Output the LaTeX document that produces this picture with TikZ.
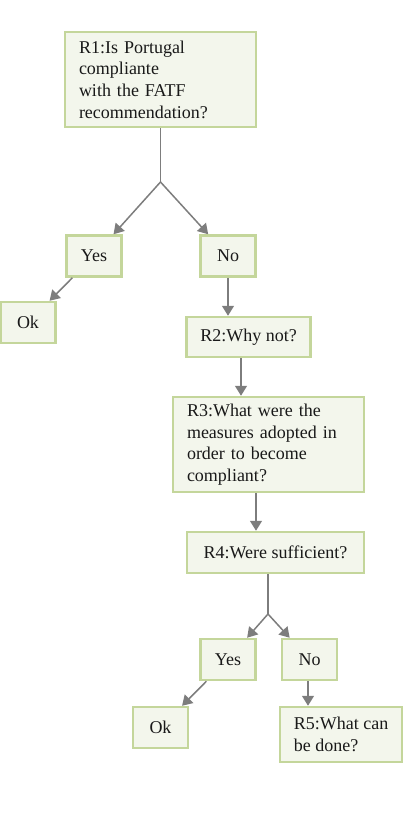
\documentclass[tikz,border=0pt]{standalone}
\usepackage{fontspec}
\setmainfont{Liberation Serif}
\usetikzlibrary{arrows.meta}
\definecolor{boxfill}{RGB}{243,246,236}
\definecolor{boxline}{RGB}{196,214,155}
\definecolor{arrowgray}{RGB}{125,125,125}

\begin{document}
\begin{tikzpicture}[x=1pt, y=-1pt,
  box/.style={draw=boxline, fill=boxfill, line width=2.5pt, inner xsep=14pt, inner ysep=3pt,
    font=\fontsize{18}{21.6}\selectfont, text=black!90},
  widebox/.style={box, text width=163pt, align=left, minimum height=95pt},
  smallbox/.style={box, inner xsep=2pt, minimum width=55pt, minimum height=41pt},
  conn/.style={draw=arrowgray, line width=1.5pt},
  arr/.style={conn, -{Triangle[width=12pt,length=10pt]}}]
\useasboundingbox (0,0) rectangle (403,816);

% first question and its two answers
\node[widebox] (r1) at (160.5,79.5) {R1:Is Portugal\\compliante\\with the FATF\\recommendation?};
\node[smallbox] (yes1) at (94,256) {Yes};
\node[smallbox] (no1) at (228,256) {No};
\node[smallbox] (ok1) at (28,322.5) {Ok};
\coordinate (j1) at (160.5,182);

% the "no" path
\node[box, minimum width=123pt, minimum height=40pt] (r2) at (248.5,337) {R2:Why not?};
\node[widebox] (r3) at (268.5,444.5) {R3:What were the\\measures adopted in\\order to become\\compliant?};
\node[box, minimum width=177pt, minimum height=41pt] (r4) at (275.5,552.5) {R4:Were sufficient?};
\node[smallbox] (yes2) at (228,659.5) {Yes};
\node[smallbox] (no2) at (309.5,659.5) {No};
\node[smallbox] (ok2) at (160.5,727.5) {Ok};
\node[box, align=left, minimum width=118pt, minimum height=55pt] (r5) at (341,734.5) {R5:What can\\be done?};
\coordinate (j2) at (268,614);

% connectors
\draw[conn] (r1) -- (j1);
\draw[arr] (j1) -- (yes1);
\draw[arr] (j1) -- (no1);
\draw[arr] (yes1) -- (ok1);
\draw[arr] (no1) -- (no1 |- r2.north);
\draw[arr] ([xshift=-7.5pt]r2.south) -- ([xshift=-7.5pt]r2.south |- r3.north);
\draw[arr] ([xshift=-12.5pt]r3.south) -- ([xshift=-12.5pt]r3.south |- r4.north);
\draw[conn] ([xshift=-7.5pt]r4.south) -- (j2);
\draw[arr] (j2) -- (yes2);
\draw[arr] (j2) -- (no2);
\draw[arr] (yes2) -- (ok2);
\draw[arr] ([xshift=-1.5pt]no2.south) -- ([xshift=-1.5pt]no2.south |- r5.north);
\end{tikzpicture}
\end{document}
